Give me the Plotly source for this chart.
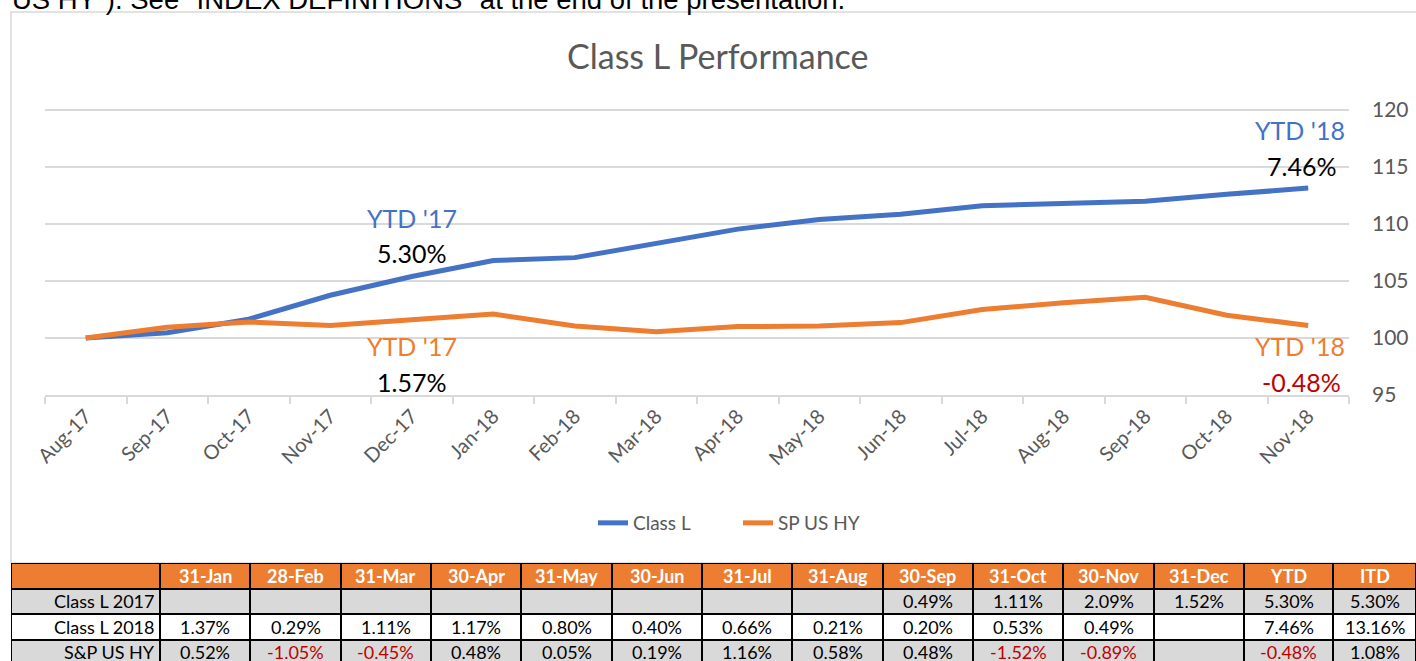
import plotly.graph_objects as go

W, H = 1416, 661

# ---------------- data ----------------
months = ["Aug-17", "Sep-17", "Oct-17", "Nov-17", "Dec-17", "Jan-18", "Feb-18", "Mar-18",
          "Apr-18", "May-18", "Jun-18", "Jul-18", "Aug-18", "Sep-18", "Oct-18", "Nov-18"]
class_l = [100.0, 100.47, 101.65, 103.75, 105.4, 106.8, 107.05, 108.25,
           109.55, 110.4, 110.85, 111.6, 111.8, 112.0, 112.6, 113.15]
sp_us_hy = [100.0, 100.95, 101.4, 101.1, 101.6, 102.1, 101.05, 100.55,
            101.0, 101.05, 101.35, 102.5, 103.1, 103.57, 102.0, 101.1]

table_header = ["", "31-Jan", "28-Feb", "31-Mar", "30-Apr", "31-May", "30-Jun", "31-Jul",
                "31-Aug", "30-Sep", "31-Oct", "30-Nov", "31-Dec", "YTD", "ITD"]
row_labels = ["Class L 2017", "Class L 2018", "S&P US HY"]
class_l_2017_row = [None, None, None, None, None, None, None, None, 0.49, 1.11, 2.09, 1.52, 5.30, 5.30]
class_l_2018_row = [1.37, 0.29, 1.11, 1.17, 0.80, 0.40, 0.66, 0.21, 0.20, 0.53, 0.49, None, 7.46, 13.16]
sp_us_hy_row = [0.52, -1.05, -0.45, 0.48, 0.05, 0.19, 1.16, 0.58, 0.48, -1.52, -0.89, None, -0.48, 1.08]

ytd17_class_l, ytd17_sp = "5.30%", "1.57%"
ytd18_class_l, ytd18_sp = "7.46%", "-0.48%"

top_text = 'US HY"). See "INDEX DEFINITIONS" at the end of the presentation.'

# ---------------- style ----------------
def px_x(p):
    return p / W

def px_y(p):
    return 1 - p / H

BLUE = "#4472C4"
ORANGE = "#ED7D31"
GREY_TXT = "#595959"
GRID = "#D9D9D9"
FONT = "Lato"
COL_WIDTHS = [149] + [90.33] * 12 + [89, 83]    # table column widths (px)
ROW_PX = 25.5                                   # table row height (px)

fig = go.Figure()
fig.add_trace(go.Scatter(x=months, y=class_l, name="Class L", mode="lines",
                         line=dict(color=BLUE, width=5)))
fig.add_trace(go.Scatter(x=months, y=sp_us_hy, name="SP US HY", mode="lines",
                         line=dict(color=ORANGE, width=5)))

# ---------------- table (heatmap bricks + text) ----------------
rows = [class_l_2017_row, class_l_2018_row, sp_us_hy_row]
edges = [0.0]
for w in COL_WIDTHS:
    edges.append(edges[-1] + w)
ncol = len(table_header)
z = [[0] * ncol, [1] * ncol, [2] * ncol, [1] * ncol]   # header / grey / white / grey

fig.add_trace(go.Heatmap(
    z=z, x=edges, y=[0, 1, 2, 3], xaxis="x2", yaxis="y2",
    colorscale=[[0, ORANGE], [0.5, "#D9D9D9"], [1, "#FFFFFF"]], zmin=0, zmax=2,
    showscale=False, xgap=2, ygap=2, hoverinfo="skip", showlegend=False))

def fmt(v):
    return "" if v is None else f"{v:.2f}%"

ann = []
for j, h in enumerate(table_header):
    cx = (edges[j] + edges[j + 1]) / 2
    if h:
        ann.append(dict(x=cx, y=0, xref="x2", yref="y2", text=f"<b>{h}</b>", showarrow=False,
                        font=dict(family=FONT, size=18, color="white"),
                        xanchor="center", yanchor="middle"))
for i, lab in enumerate(row_labels):
    ann.append(dict(x=edges[1], y=i + 1, xref="x2", yref="y2", text=lab, showarrow=False,
                    font=dict(family=FONT, size=18, color="#000000"),
                    xanchor="right", yanchor="middle", xshift=-3))
    for j, v in enumerate(rows[i]):
        if v is None:
            continue
        cx = (edges[j + 1] + edges[j + 2]) / 2
        ann.append(dict(x=cx, y=i + 1, xref="x2", yref="y2", text=fmt(v), showarrow=False,
                        font=dict(family=FONT, size=18, color="#C00000" if v < 0 else "#000000"),
                        xanchor="center", yanchor="middle"))

# ---------------- chart annotations ----------------
def add(x, y, text, color, size=25, xshift=0):
    ann.append(dict(x=x, y=y, xref="x", yref="y", text=text, showarrow=False,
                    font=dict(family=FONT, size=size, color=color),
                    xanchor="center", yanchor="middle", xshift=xshift))

add("Dec-17", 110.5, "YTD '17", BLUE)
add("Dec-17", 107.45, ytd17_class_l, "#000000")
add("Dec-17", 99.3, "YTD '17", ORANGE)
add("Dec-17", 96.1, ytd17_sp, "#000000")
add("Nov-18", 118.25, "YTD '18", BLUE, xshift=-8)
add("Nov-18", 115.1, ytd18_class_l, "#000000", xshift=-7)
add("Nov-18", 99.3, "YTD '18", ORANGE, xshift=-8)
add("Nov-18", 96.1, ytd18_sp, "#C00000", xshift=-7)

ann.append(dict(x=px_x(718), y=px_y(55), xref="paper", yref="paper", xanchor="center",
                text="Class L Performance", showarrow=False, yanchor="middle",
                font=dict(family=FONT, size=34, color=GREY_TXT)))

ann.append(dict(x=px_x(10), y=px_y(-0.5), xref="paper", yref="paper", xanchor="left", yanchor="middle",
                text=top_text, showarrow=False,
                font=dict(family="Liberation Sans", size=27.5, color="#000000")))

table_rows_visible = (H - 563) / ROW_PX

fig.update_layout(
    width=W, height=H, autosize=False,
    margin=dict(l=0, r=0, t=0, b=0, autoexpand=False),
    paper_bgcolor="white", plot_bgcolor="white",
    showlegend=True,
    legend=dict(orientation="h", x=px_x(738), xanchor="center", y=px_y(523), yanchor="middle",
                entrywidth=100, entrywidthmode="pixels",
                font=dict(family=FONT, size=19, color=GREY_TXT), bgcolor="rgba(0,0,0,0)"),
    xaxis=dict(domain=[px_x(45), px_x(1349)], type="category", range=[-0.5, 15.5],
               automargin=False,
               tickson="boundaries", ticks="outside", ticklen=7, tickcolor=GRID, tickwidth=1.5,
               showline=True, linecolor=GRID, linewidth=1.5, showgrid=False,
               tickangle=-45, tickfont=dict(family=FONT, size=20, color=GREY_TXT)),
    yaxis=dict(domain=[px_y(395), px_y(108.86)], range=[95, 120.1], tickvals=[95, 100, 105, 110, 115, 120],
               side="right", automargin=False,
               showgrid=True, gridcolor=GRID, gridwidth=1.5, zeroline=False, showline=False,
               ticks="", ticklabelstandoff=22,
               tickfont=dict(family=FONT, size=21, color=GREY_TXT)),
    xaxis2=dict(domain=[px_x(11), 1], range=[0, edges[-1]], visible=False, fixedrange=True,
                automargin=False),
    yaxis2=dict(domain=[0, px_y(563)], range=[table_rows_visible - 0.5, -0.5], visible=False,
                fixedrange=True, automargin=False),
    annotations=ann,
    shapes=[
        dict(type="rect", xref="paper", yref="paper",
             x0=px_x(11), x1=px_x(1430), y0=px_y(563), y1=px_y(12),
             line=dict(color=GRID, width=1.5), fillcolor="rgba(0,0,0,0)", layer="below"),
        dict(type="rect", xref="x2 domain", yref="y2 domain", x0=0, x1=1, y0=0, y1=1,
             line=dict(width=0), fillcolor="#000000", layer="below"),
    ],
)

fig.write_html("out.html", config={"displayModeBar": False},
               post_script="document.body.style.margin='0px';")
